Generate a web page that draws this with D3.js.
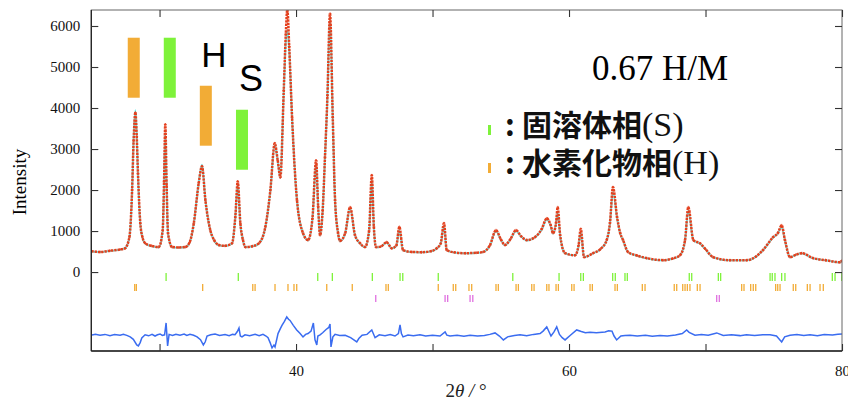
<!DOCTYPE html>
<html>
<head>
<meta charset="utf-8">
<script src="https://cdn.jsdelivr.net/npm/d3@7"></script>
<style>
  body { margin: 0; background: #fff; }
  svg { display: block; }
</style>
</head>
<body>
<div id="chart"></div>
<script>
var twoTheta = [25.0, 25.64, 26.37, 27.11, 27.47, 27.79, 27.99, 28.10, 28.23, 28.33, 28.42, 28.59, 28.75, 28.96, 29.4, 29.94,
  30.23, 30.33, 30.42, 30.52, 30.62, 30.92, 31.4, 31.89, 32.2, 32.51, 32.87, 33.11, 33.36, 33.72, 34.0, 34.34, 34.8,
  35.31, 35.55, 35.73, 35.92, 36.1, 36.29, 36.8, 37.27, 37.75, 38.12, 38.44, 38.66, 38.85, 39.10, 39.25, 39.36, 39.5,
  39.71, 40.07, 40.51, 40.88, 41.2, 41.47, 41.62, 41.76, 41.95, 42.12, 42.3, 42.49, 42.69, 42.86, 43.08, 43.22, 43.6,
  43.96, 44.32, 44.7, 45.05, 45.35, 45.55, 45.7, 45.86, 46.2, 46.64, 47.01, 47.35, 47.57, 47.84, 48.5, 49.2, 49.9,
  50.31, 50.6, 50.84, 51.04, 51.6, 52.4, 53.2, 53.7, 54.2, 54.65, 55.0, 55.31, 55.7, 56.12, 56.5, 56.9, 57.5, 58.0,
  58.37, 58.65, 58.83, 59.05, 59.17, 59.35, 59.71, 60.44, 60.7, 60.86, 61.10, 61.76, 62.3, 62.76, 63.0, 63.22, 63.52,
  63.75, 63.96, 64.32, 65.0, 65.69, 66.89, 67.6, 68.13, 68.5, 68.74, 69.11, 69.6, 70.0, 70.55, 71.79, 73.02, 73.7,
  74.21, 74.95, 75.3, 75.58, 75.82, 76.19, 76.6, 77.05, 77.88, 78.8, 79.85, 80.0];
var iObs = [510, 490, 520, 550, 580, 850, 2000, 3200, 3890, 3300, 2400, 1190, 850, 700, 640, 610,
  1020, 2200, 3600, 2100, 950, 610, 600, 610, 720, 1190, 2170, 2580, 1750, 1020, 780, 660, 640,
  700, 1340, 2210, 1190, 800, 610, 630, 700, 1100, 2000, 3140, 2720, 2310, 4430, 5800, 6400, 5500,
  3770, 1750, 950, 780, 1300, 2720, 1600, 900, 1500, 2800, 4300, 6300, 3770, 1750, 950, 760, 950,
  1580, 900, 700, 610, 1000, 2360, 1100, 610, 620, 730, 580, 650, 1100, 535, 490, 485, 510,
  580, 700, 1190, 535, 480, 460, 470, 490, 650, 1020, 800, 660, 800, 1020, 870, 780, 850, 1050,
  1310, 1150, 950, 1200, 1580, 900, 460, 410, 650, 1050, 365, 460, 560, 780, 1200, 2070, 1340,
  950, 780, 490, 400, 340, 290, 330, 410, 780, 1580, 780, 700, 560, 365, 290, 290, 380,
  535, 850, 950, 1140, 780, 365, 420, 460, 340, 290, 240, 280];
var iCalc = [500, 490, 515, 545, 580, 840, 1980, 3250, 3950, 3350, 2380, 1170, 840, 690, 630, 600,
  1000, 2150, 3400, 2050, 940, 600, 595, 605, 710, 1180, 2180, 2620, 1760, 1010, 770, 650, 635,
  690, 1320, 2150, 1170, 790, 600, 625, 690, 1080, 1980, 3100, 2700, 2300, 4400, 5600, 5900, 5400,
  3750, 1740, 940, 770, 1290, 2650, 1580, 890, 1480, 2780, 4250, 6200, 3750, 1740, 940, 750, 940,
  1560, 890, 690, 600, 980, 2250, 1090, 600, 615, 720, 575, 640, 1020, 530, 485, 480, 505,
  575, 690, 1120, 530, 475, 455, 465, 485, 640, 1000, 790, 650, 790, 1000, 860, 770, 840, 1030,
  1280, 1130, 940, 1180, 1450, 880, 455, 405, 640, 980, 360, 455, 555, 770, 1180, 1950, 1320,
  940, 770, 485, 395, 335, 285, 325, 405, 770, 1500, 770, 690, 555, 360, 285, 285, 375,
  530, 840, 940, 1100, 770, 360, 415, 455, 335, 285, 235, 275];

// difference curve (already shifted down as in the plot)
var diffTheta = [25.05, 25.3, 25.64, 26.0, 26.37, 26.7, 27.11, 27.35, 27.6, 27.85, 28.08, 28.33, 28.45, 28.58, 28.7,
  28.94, 29.2, 29.45, 29.67, 29.85, 30.04, 30.2, 30.37, 30.48, 30.59, 30.7, 30.95, 31.2, 31.5, 31.8, 32.0, 32.23,
  32.5, 32.75, 33.0, 33.21, 33.35, 33.48, 33.75, 34.07, 34.4, 34.8, 35.1, 35.35, 35.53, 35.7, 35.82, 35.92, 36.04,
  36.26, 36.6, 37.0, 37.3, 37.58, 37.8, 37.95, 38.1, 38.24, 38.38, 38.46, 38.6, 38.68, 38.85, 38.97, 39.15, 39.32,
  39.45, 39.56, 39.8, 40.05, 40.3, 40.51, 40.7, 40.88, 41.1, 41.27, 41.39, 41.52, 41.6, 41.76, 41.95, 42.2, 42.4,
  42.49, 42.56, 42.7, 42.86, 43.2, 43.6, 44.0, 44.45, 44.6, 44.84, 45.2, 45.55, 45.79, 46.1, 46.52, 46.9, 47.25,
  47.5, 47.62, 47.72, 47.84, 48.2, 48.6, 49.08, 49.5, 50.0, 50.55, 50.92, 51.05, 51.28, 51.8, 52.3, 52.75, 53.3,
  53.8, 54.2, 54.58, 54.9, 55.19, 55.5, 56.0, 56.41, 56.9, 57.4, 57.88, 58.1, 58.37, 58.5, 58.68, 58.9, 59.1, 59.3,
  59.5, 59.71, 60.1, 60.56, 60.9, 61.2, 61.54, 62.0, 62.64, 62.9, 63.15, 63.3, 63.49, 63.8, 64.1, 64.47, 65.0, 65.6,
  66.1, 66.67, 67.2, 67.8, 68.3, 68.62, 68.8, 69.23, 69.7, 70.2, 70.82, 71.3, 71.9, 72.53, 73.0, 73.6, 74.2, 74.73,
  75.2, 75.58, 75.8, 76.19, 76.7, 77.2, 77.66, 78.2, 78.7, 79.3, 79.7, 80.0];
var diffVal = [-1533, -1515, -1540, -1520, -1550, -1525, -1540, -1515, -1545, -1580, -1640, -1776, -1800, -1720, -1606,
  -1530, -1555, -1520, -1560, -1530, -1510, -1545, -1530, -1241, -1800, -1520, -1545, -1515, -1540, -1510, -1545, -1520,
  -1540, -1580, -1650, -1776, -1700, -1560, -1530, -1510, -1545, -1525, -1550, -1520, -1530, -1450, -1363, -1560, -1582,
  -1530, -1550, -1520, -1555, -1520, -1560, -1600, -1720, -1849, -1780, -1825, -1620, -1500, -1380, -1300, -1200, -1095,
  -1150, -1180, -1300, -1411, -1500, -1582, -1520, -1500, -1440, -1241, -1650, -1776, -1560, -1530, -1480, -1400, -1350,
  -1265, -1825, -1580, -1520, -1545, -1540, -1600, -1703, -1620, -1540, -1520, -1411, -1600, -1530, -1550, -1525, -1560,
  -1500, -1290, -1500, -1580, -1535, -1555, -1530, -1560, -1540, -1560, -1460, -1540, -1560, -1540, -1565, -1540, -1560,
  -1545, -1520, -1484, -1560, -1655, -1580, -1545, -1530, -1555, -1520, -1500, -1440, -1338, -1430, -1560, -1460, -1338, -1520,
  -1600, -1655, -1540, -1411, -1450, -1480, -1470, -1480, -1460, -1430, -1440, -1560, -1655, -1560, -1545, -1540, -1560, -1540,
  -1565, -1545, -1560, -1535, -1500, -1411, -1470, -1540, -1520, -1540, -1484, -1545, -1530, -1550, -1530, -1545, -1530, -1530,
  -1560, -1703, -1580, -1540, -1520, -1545, -1530, -1550, -1520, -1535, -1515, -1509];

// Bragg reflection positions
var peaksS = [30.48, 35.77, 41.59, 42.66, 45.59, 47.62, 47.82, 50.42, 55.88, 59.27, 60.86, 61.05, 63.20, 63.39,
  64.10, 64.27, 68.81, 68.99, 70.94, 71.11, 74.73, 74.89, 75.09, 75.58, 75.82, 79.29, 79.49, 79.98];
var peaksH = [28.18, 28.30, 33.16, 36.83, 37.0, 38.46, 39.41, 39.85, 40.05, 42.25, 44.12, 46.59, 46.76, 50.42, 51.52,
  51.70, 52.67, 52.87, 54.65, 54.82, 56.12, 56.29, 57.27, 57.44, 58.37, 58.53, 59.05, 59.22, 60.20, 60.37, 61.54,
  61.71, 63.37, 63.54, 65.37, 65.57, 67.71, 67.89, 68.33, 68.50, 68.67, 68.86, 69.40, 69.60, 72.65, 72.82, 73.31,
  73.50, 73.68, 75.14, 75.29, 75.46, 76.43, 76.61, 77.46, 77.66, 78.39, 78.63];
var peaksM = [45.84, 50.92, 51.11, 52.75, 52.95, 70.82, 71.01];

// coloured marker bars in the top left (2theta, top, bottom)
var markPhase = ["H", "S", "H", "S"];
var markTheta = [28.11, 30.75, 33.39, 36.04];
var markTop = [5714, 5714, 4543, 3958];
var markBottom = [4251, 4251, 3081, 2495];

var yTicks = [0, 1000, 2000, 3000, 4000, 5000, 6000];
var xTicks = [30, 40, 50, 60, 70, 80];
var xLabels = [40, 60, 80];

var W = 848, H = 403;
var margin = {top: 10, right: 6, bottom: 52, left: 91.3};
var innerWidth = W - margin.left - margin.right;
var innerHeight = H - margin.top - margin.bottom;

var colS = "#7ef23a", colH = "#f2ac36", colM = "#e070e0";
var colObs = "#e4401e", colCalc = "#66eeee", colDiff = "#3a6cf0";
var serif = "'Liberation Serif', 'Times New Roman', serif";

var svg = d3.select("#chart").append("svg")
  .attr("width", W)
  .attr("height", H);

var xScale = d3.scaleLinear().domain([25, 80]).range([0, innerWidth]);
var yScale = d3.scaleLinear().domain([-1925, 6390]).range([innerHeight, 0]);

svg.append("defs").append("clipPath").attr("id", "clip")
  .append("rect").attr("width", innerWidth).attr("height", innerHeight);

var g = svg.append("g").attr("transform", `translate(${margin.left},${margin.top})`);
var plot = g.append("g").attr("clip-path", "url(#clip)");

var obs = twoTheta.map((t, i) => ({t: t, obs: iObs[i], calc: iCalc[i]}));
var diff = diffTheta.map((t, i) => ({t: t, v: diffVal[i]}));

var lineCalc = d3.line().x(d => xScale(d.t)).y(d => yScale(d.calc)).curve(d3.curveMonotoneX);
var lineObs = d3.line().x(d => xScale(d.t)).y(d => yScale(d.obs)).curve(d3.curveMonotoneX);
var lineDiff = d3.line().x(d => xScale(d.t)).y(d => yScale(d.v));

// calc line beneath, observed trace on top
plot.append("path").datum(obs)
  .attr("d", lineCalc)
  .attr("fill", "none")
  .attr("stroke", colCalc)
  .attr("stroke-width", 1.8);

plot.append("path").datum(obs)
  .attr("d", lineObs)
  .attr("fill", "none")
  .attr("stroke", colObs)
  .attr("stroke-width", 2.5)
  .attr("stroke-dasharray", "2.4,0.9");

plot.selectAll(".pt").data(obs).enter().append("path")
  .attr("class", "pt")
  .attr("transform", d => `translate(${xScale(d.t)},${yScale(d.obs)})`)
  .attr("d", "M-1.4,0H1.4M0,-1.4V1.4")
  .attr("stroke", colObs)
  .attr("stroke-width", 0.8);

// difference curve
plot.append("path").datum(diff)
  .attr("d", lineDiff)
  .attr("fill", "none")
  .attr("stroke", colDiff)
  .attr("stroke-width", 1.5);

// reflection markers, in pixel rows under zero
function tickRow(data, y0, y1, col) {
  plot.selectAll(null).data(data).enter().append("line")
    .attr("x1", d => xScale(d)).attr("x2", d => xScale(d))
    .attr("y1", y0).attr("y2", y1)
    .attr("stroke", col)
    .attr("stroke-width", 1.3);
}
tickRow(peaksS, 263, 271, colS);
tickRow(peaksH, 274, 281, colH);
tickRow(peaksM, 285, 292, colM);

// coloured bars
g.selectAll(".mark").data(markTheta).enter().append("rect")
  .attr("class", "mark")
  .attr("x", d => xScale(d) - 6)
  .attr("width", 12)
  .attr("y", (d, i) => yScale(markTop[i]))
  .attr("height", (d, i) => yScale(markBottom[i]) - yScale(markTop[i]))
  .attr("fill", (d, i) => markPhase[i] == "H" ? colH : colS);

g.append("text").attr("x", 214 - margin.left).attr("y", 67 - margin.top)
  .attr("text-anchor", "middle")
  .attr("font-family", "'Liberation Sans', Arial, sans-serif")
  .attr("font-size", 35).text("H");
g.append("text").attr("x", 251 - margin.left).attr("y", 91 - margin.top)
  .attr("text-anchor", "middle")
  .attr("font-family", "'Liberation Sans', Arial, sans-serif")
  .attr("font-size", 36).text("S");

// frame
g.append("rect")
  .attr("width", innerWidth).attr("height", innerHeight)
  .attr("fill", "none").attr("stroke", "#666").attr("stroke-width", 1);
g.append("line").attr("x1", 0).attr("x2", 0).attr("y1", 0).attr("y2", innerHeight)
  .attr("stroke", "#222").attr("stroke-width", 1.3);
g.append("line").attr("x1", 0).attr("x2", innerWidth).attr("y1", innerHeight).attr("y2", innerHeight)
  .attr("stroke", "#222").attr("stroke-width", 1.3);

// axes with inward ticks
var yAxis = d3.axisLeft(yScale).tickValues(yTicks).tickSize(-7).tickPadding(11).tickFormat(d3.format("d"));
var yAxisR = d3.axisRight(yScale).tickValues(yTicks).tickSize(-7).tickFormat("");
var xAxis = d3.axisBottom(xScale).tickValues(xTicks).tickSize(-7).tickPadding(14)
  .tickFormat(d => xLabels.indexOf(d) > -1 ? d : "");
var xAxisT = d3.axisTop(xScale).tickValues(xTicks).tickSize(-7).tickFormat("");

function styleAxis(sel) {
  sel.attr("font-family", null).attr("font-size", null);
  sel.select(".domain").remove();
  sel.selectAll(".tick line").attr("stroke", "#333").attr("stroke-width", 1.1);
  sel.selectAll("text")
    .style("font-family", serif)
    .style("font-size", "15px")
    .attr("fill", "#111");
}
g.append("g").call(yAxis).call(styleAxis);
g.append("g").attr("transform", `translate(${innerWidth},0)`).call(yAxisR).call(styleAxis);
g.append("g").attr("transform", `translate(0,${innerHeight})`).call(xAxis).call(styleAxis);
g.append("g").call(xAxisT).call(styleAxis);

// axis titles
svg.append("text")
  .attr("transform", "translate(26,182) rotate(-90)")
  .attr("text-anchor", "middle")
  .style("font-family", serif)
  .style("font-size", "19px")
  .text("Intensity");

var xt = svg.append("text")
  .attr("x", 466).attr("y", 397)
  .attr("text-anchor", "middle")
  .style("font-family", serif)
  .style("font-size", "19px")
  .attr("fill", "#222");
xt.append("tspan").text("2");
xt.append("tspan").attr("font-style", "italic").text("θ");
xt.append("tspan").attr("font-style", "italic").text(" / ");
xt.append("tspan").text("°");

// sample label and legend
svg.append("text")
  .attr("x", 728).attr("y", 80)
  .attr("text-anchor", "end")
  .style("font-family", serif)
  .style("font-size", "35px")
  .text("0.67 H/M");

var legendCols = [colS, colH];
var legendNames = ["固溶体相", "水素化物相"];
var legendTags = ["(S)", "(H)"];
var legendY = [136, 174];
legendNames.forEach(function (name, i) {
  svg.append("rect")
    .attr("x", 488).attr("y", legendY[i] - 11)
    .attr("width", 3).attr("height", 10)
    .attr("fill", legendCols[i]);
  var t = svg.append("text")
    .attr("x", 505).attr("y", legendY[i])
    .style("font-size", "30px")
    .attr("fill", "#111");
  t.append("tspan").style("font-family", "'Noto Sans CJK JP', sans-serif").attr("font-weight", 700).text(": ");
  t.append("tspan").attr("x", 522).style("font-family", "'Noto Sans CJK JP', sans-serif").attr("font-weight", 700).text(name);
  t.append("tspan").style("font-family", serif).style("font-size", "34px").text(legendTags[i]);
});
</script>
</body>
</html>
